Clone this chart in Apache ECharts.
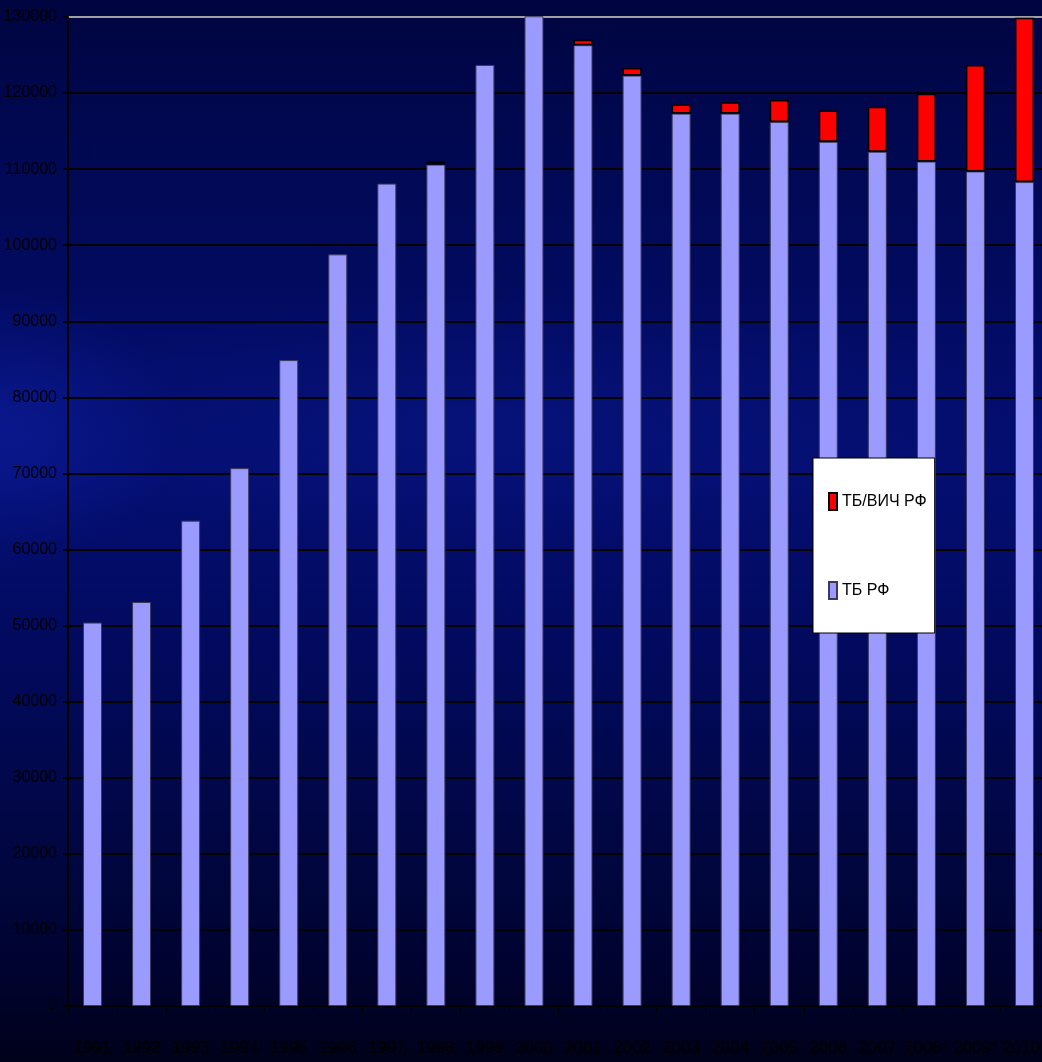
<!DOCTYPE html>
<html>
<head>
<meta charset="utf-8">
<title>ТБ и ТБ/ВИЧ в РФ</title>
<script src="https://cdn.jsdelivr.net/npm/echarts@6/dist/echarts.min.js"></script>
<style>
  html, body { margin: 0; padding: 0; width: 1042px; height: 1062px; overflow: hidden; }
  body {
    background:
      radial-gradient(ellipse 180px 140px at 0px 430px, rgba(18, 40, 190, 0.38), rgba(18, 40, 190, 0) 100%),
      radial-gradient(ellipse 600px 120px at 480px 420px, rgba(12, 30, 150, 0.3), rgba(12, 30, 150, 0) 100%),
      linear-gradient(to bottom, #000440 0%, #010850 12%, #030c68 35%, #040e70 45%, #020a60 60%, #010744 78%, #00032e 92%, #00011a 100%);
  }
  #chart { width: 1042px; height: 1062px; }
</style>
</head>
<body>
<div id="chart"></div>
<script>
// Years of registration (the last three are provisional)
const years = ['1991', '1992', '1993', '1994', '1995', '1996', '1997', '1998', '1999', '2000',
               '2001', '2002', '2003', '2004', '2005', '2006', '2007', '2008*', '2009*', '2010*'];

// Tuberculosis cases, Russian Federation
const tbCases = [50400, 53100, 63800, 70700, 84900, 98800, 108100, 110600, 123700, 130100,
                 126300, 122300, 117300, 117300, 116200, 113600, 112300, 111000, 109700, 108300];

// TB/HIV co-infection cases, stacked on top
const tbHivCases = [null, null, null, null, null, null, null, 400, null, null,
                    700, 1000, 1200, 1500, 2900, 4100, 5900, 8900, 14000, 21600];

// Y axis ticks
const yTicks = [0, 10000, 20000, 30000, 40000, 50000, 60000, 70000, 80000, 90000,
                100000, 110000, 120000, 130000];

const FONT = "'Liberation Sans', Arial, sans-serif";

// Grid lines are black; the top one (at the maximum) is light grey
const splitColors = yTicks.map((v, i) => (i === yTicks.length - 1 ? '#a0a0a0' : '#000000'));

const chart = echarts.init(document.getElementById('chart'), null, { renderer: 'canvas' });

chart.setOption({
  backgroundColor: 'transparent',
  animation: false,
  grid: { left: 68, right: -7, top: 17, bottom: 56, containLabel: false, outerBoundsMode: 'none' },
  legend: {
    data: ['ТБ/ВИЧ РФ', 'ТБ РФ'],
    orient: 'vertical',
    left: 813,
    top: 458,
    backgroundColor: '#ffffff',
    borderColor: '#000000',
    borderWidth: 1,
    borderRadius: 0,
    padding: [34, 8, 33, 15],
    itemWidth: 8,
    itemHeight: 17,
    itemGap: 70,
    icon: 'rect',
    textStyle: { fontFamily: FONT, fontSize: 16, color: '#000000' }
  },
  xAxis: {
    type: 'category',
    data: years,
    boundaryGap: true,
    axisLine: { show: true, lineStyle: { color: '#000000', width: 2 } },
    axisTick: { show: true, alignWithLabel: false, length: 7, lineStyle: { color: '#000000', width: 1 } },
    axisLabel: { fontFamily: FONT, fontSize: 17, color: '#000000', margin: 34, interval: 0, hideOverlap: false },
    splitLine: { show: false }
  },
  yAxis: {
    type: 'value',
    min: 0,
    max: 130000,
    interval: 10000,
    axisLine: { show: true, lineStyle: { color: '#000000', width: 2 } },
    axisTick: { show: true, length: 5, lineStyle: { color: '#000000', width: 2 } },
    axisLabel: { fontFamily: FONT, fontSize: 16, color: '#000000', margin: 11, formatter: (v) => String(v) },
    splitLine: { show: true, lineStyle: { color: splitColors, width: 2 } }
  },
  series: [
    {
      name: 'ТБ РФ',
      type: 'bar',
      stack: 'total',
      data: tbCases,
      barWidth: 19,
      clip: false,
      itemStyle: { color: '#9b9bff', borderColor: '#3a3a5a', borderWidth: 1 }
    },
    {
      name: 'ТБ/ВИЧ РФ',
      type: 'bar',
      stack: 'total',
      data: tbHivCases,
      barWidth: 19,
      clip: false,
      itemStyle: { color: '#ff0000', borderColor: '#000000', borderWidth: 1.5 }
    }
  ]
});
</script>
</body>
</html>
